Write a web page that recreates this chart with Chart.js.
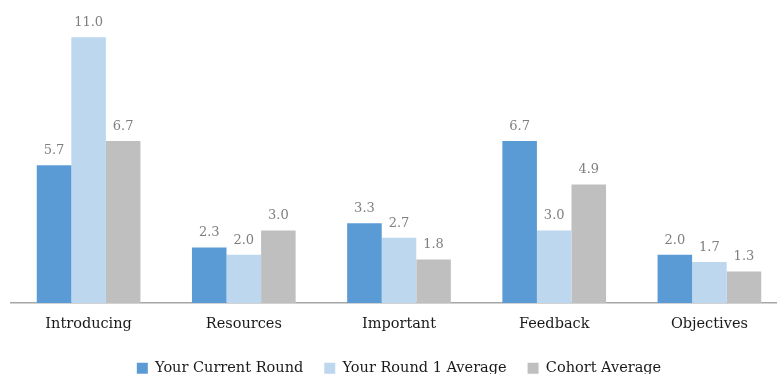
<!DOCTYPE html>
<html>
<head>
<meta charset="utf-8">
<script src="https://cdn.jsdelivr.net/npm/chart.js@4/dist/chart.umd.min.js"></script>
<style>
  html, body { margin: 0; padding: 0; background: #fff; overflow: hidden; }
  #wrap { width: 798px; height: 374px; }
</style>
</head>
<body>
<div id="wrap"><canvas id="grafico" width="798" height="374"></canvas></div>
<script>
// chart data
var categories = ["Introducing", "Resources", "Important", "Feedback", "Objectives"];
var seriesNames = ["Your Current Round", "Your Round 1 Average", "Cohort Average"];
var currentRound = [5.7, 2.3, 3.3, 6.7, 2.0];
var round1Average = [11.0, 2.0, 2.7, 3.0, 1.7];
var cohortAverage = [6.7, 3.0, 1.8, 4.9, 1.3];
var colores = ["#5b9bd5", "#bdd7ee", "#bfbfbf"];

var fuente = "'DejaVu Serif', 'Liberation Serif', serif";

// draws the numbers above each bar
var valueLabels = {
    id: "valueLabels",
    afterDatasetsDraw: function(chart) {
        var ctx = chart.ctx;
        ctx.save();
        ctx.font = "13px " + fuente;
        ctx.fillStyle = "#7f7f7f";
        ctx.textAlign = "center";
        ctx.textBaseline = "bottom";
        chart.data.datasets.forEach(function(ds, i) {
            var meta = chart.getDatasetMeta(i);
            meta.data.forEach(function(bar, j) {
                ctx.fillText(ds.data[j].toFixed(1), bar.x, bar.y - 8);
            });
        });
        ctx.restore();
    }
};

// legend keeps its spacing between items but takes less height
var legendHeight = {
    id: "legendHeight",
    beforeInit: function(chart) {
        var fitOrig = chart.legend.fit;
        chart.legend.fit = function() {
            fitOrig.call(this);
            this.height = 34;
        };
    }
};

var canvas = document.getElementById("grafico");
var graph = new Chart(canvas, {
    type: "bar",
    data: {
        labels: categories,
        datasets: [
            { label: seriesNames[0], data: currentRound, backgroundColor: colores[0] },
            { label: seriesNames[1], data: round1Average, backgroundColor: colores[1] },
            { label: seriesNames[2], data: cohortAverage, backgroundColor: colores[2] }
        ]
    },
    options: {
        responsive: false,
        animation: false,
        layout: { padding: { top: 13, left: 11, right: 11, bottom: 0 } },
        datasets: { bar: { categoryPercentage: 0.668, barPercentage: 1.0 } },
        scales: {
            x: {
                grid: { display: false },
                border: { display: true, color: "#a6a6a6", width: 1.5 },
                ticks: { color: "#1a1a1a", font: { family: fuente, size: 14.5 }, padding: 5 },
                afterFit: function(scale) { scale.height = 37; }
            },
            y: {
                display: false,
                min: 0,
                max: 12
            }
        },
        plugins: {
            legend: {
                position: "bottom",
                labels: {
                    color: "#1a1a1a",
                    font: { family: fuente, size: 14.5 },
                    boxWidth: 11,
                    boxHeight: 11,
                    padding: 21
                }
            },
            tooltip: { enabled: false }
        }
    },
    plugins: [valueLabels, legendHeight]
});
</script>
</body>
</html>
